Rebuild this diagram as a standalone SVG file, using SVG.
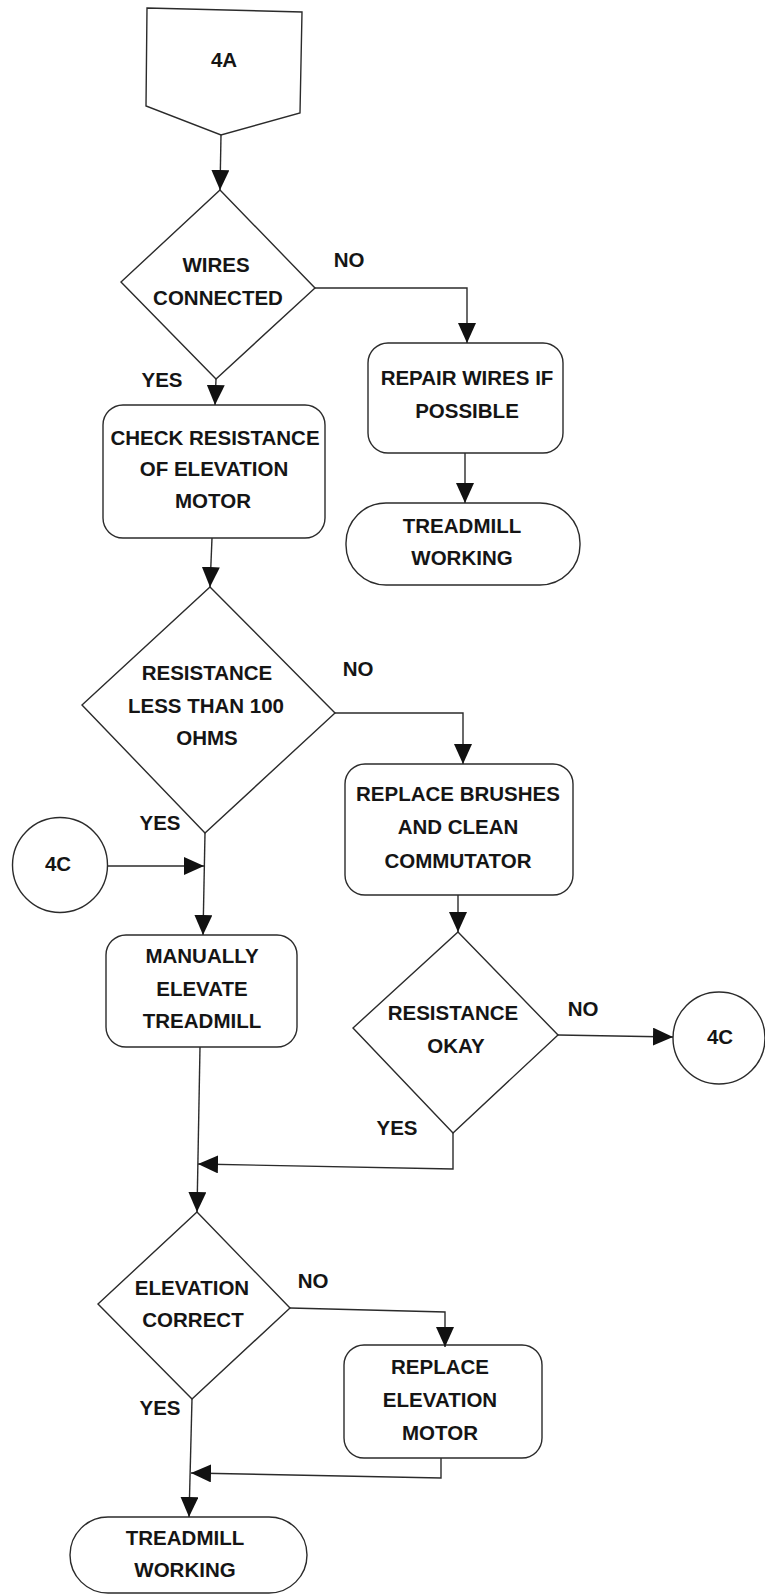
<svg xmlns="http://www.w3.org/2000/svg" width="765" height="1594" viewBox="0 0 765 1594">
  <style>
    .shape { fill: #ffffff; stroke: #2b2b2b; stroke-width: 1.4; }
    .wire { fill: none; stroke: #2b2b2b; stroke-width: 1.4; }
    .label { font-family: "Liberation Sans", Arial, sans-serif; font-weight: bold; font-size: 20.5px; fill: #151515; text-anchor: middle; }
  </style>
  <defs>
    <marker id="arrow" viewBox="0 0 20 18" refX="20" refY="9" markerWidth="20" markerHeight="18" markerUnits="userSpaceOnUse" orient="auto">
      <path d="M0,0 L20,9 L0,18 Z" fill="#111111"/>
    </marker>
  </defs>
  <rect width="765" height="1594" fill="#ffffff"/>

  <!-- off-page entry connector -->
  <g id="start-4a">
    <polygon class="shape" points="147,8 302,12 300,113 221,135 146,106"/>
    <text class="label" x="224" y="67">4A</text>
  </g>

  <g id="wires-connected">
    <polygon class="shape" points="220,190 315,288 216,379 121,282"/>
    <text class="label" x="216" y="272">WIRES</text>
    <text class="label" x="218" y="305">CONNECTED</text>
  </g>

  <g id="repair-wires">
    <rect class="shape" x="368" y="343" width="195" height="110" rx="20"/>
    <text class="label" x="467" y="385">REPAIR WIRES IF</text>
    <text class="label" x="467" y="418">POSSIBLE</text>
  </g>

  <g id="working-1">
    <rect class="shape" x="346" y="503" width="234" height="82" rx="40"/>
    <text class="label" x="462" y="533">TREADMILL</text>
    <text class="label" x="462" y="565">WORKING</text>
  </g>

  <g id="check-resistance">
    <rect class="shape" x="103" y="405" width="222" height="133" rx="20"/>
    <text class="label" x="215" y="445">CHECK RESISTANCE</text>
    <text class="label" x="214" y="476">OF ELEVATION</text>
    <text class="label" x="213" y="508">MOTOR</text>
  </g>

  <g id="resistance-less-100">
    <polygon class="shape" points="210,587 335,713 205,833 82,705"/>
    <text class="label" x="207" y="680">RESISTANCE</text>
    <text class="label" x="206" y="713">LESS THAN 100</text>
    <text class="label" x="207" y="745">OHMS</text>
  </g>

  <g id="replace-brushes">
    <rect class="shape" x="345" y="764" width="228" height="131" rx="20"/>
    <text class="label" x="458" y="801">REPLACE BRUSHES</text>
    <text class="label" x="458" y="834">AND CLEAN</text>
    <text class="label" x="458" y="868">COMMUTATOR</text>
  </g>

  <g id="entry-4c">
    <circle class="shape" cx="60" cy="865" r="47.5"/>
    <text class="label" x="58" y="871">4C</text>
  </g>

  <g id="manually-elevate">
    <rect class="shape" x="106" y="935" width="191" height="112" rx="20"/>
    <text class="label" x="202" y="963">MANUALLY</text>
    <text class="label" x="202" y="996">ELEVATE</text>
    <text class="label" x="202" y="1028">TREADMILL</text>
  </g>

  <g id="resistance-okay">
    <polygon class="shape" points="458,932 558,1035 453,1133 353,1028"/>
    <text class="label" x="453" y="1020">RESISTANCE</text>
    <text class="label" x="456" y="1053">OKAY</text>
  </g>

  <g id="exit-4c">
    <circle class="shape" cx="719" cy="1038" r="46"/>
    <text class="label" x="720" y="1044">4C</text>
  </g>

  <g id="elevation-correct">
    <polygon class="shape" points="197,1212 290,1308 192,1399 98,1304"/>
    <text class="label" x="192" y="1295">ELEVATION</text>
    <text class="label" x="193" y="1327">CORRECT</text>
  </g>

  <g id="replace-motor">
    <rect class="shape" x="344" y="1345" width="198" height="113" rx="20"/>
    <text class="label" x="440" y="1374">REPLACE</text>
    <text class="label" x="440" y="1407">ELEVATION</text>
    <text class="label" x="440" y="1440">MOTOR</text>
  </g>

  <g id="working-2">
    <rect class="shape" x="70" y="1517" width="237" height="76" rx="38"/>
    <text class="label" x="185" y="1545">TREADMILL</text>
    <text class="label" x="185" y="1577">WORKING</text>
  </g>

  <!-- flow lines and branch labels -->
  <g id="connectors">
    <path class="wire" d="M221,135 L220,190" marker-end="url(#arrow)"/>
    <path class="wire" d="M315,288 L467,288 L467,343" marker-end="url(#arrow)"/>
    <path class="wire" d="M216,379 L215,405" marker-end="url(#arrow)"/>
    <path class="wire" d="M465,453 L465,503" marker-end="url(#arrow)"/>
    <path class="wire" d="M212,538 L210,587" marker-end="url(#arrow)"/>
    <path class="wire" d="M335,713 L463,713 L463,764" marker-end="url(#arrow)"/>
    <path class="wire" d="M205,833 L203,935" marker-end="url(#arrow)"/>
    <path class="wire" d="M107,866 L204,866" marker-end="url(#arrow)"/>
    <path class="wire" d="M458,895 L458,932" marker-end="url(#arrow)"/>
    <path class="wire" d="M558,1035 L673,1037" marker-end="url(#arrow)"/>
    <path class="wire" d="M453,1133 L453,1169 L198,1164" marker-end="url(#arrow)"/>
    <path class="wire" d="M200,1047 L197,1212" marker-end="url(#arrow)"/>
    <path class="wire" d="M290,1308 L445,1312 L445,1347" marker-end="url(#arrow)"/>
    <path class="wire" d="M192,1399 L189,1517" marker-end="url(#arrow)"/>
    <path class="wire" d="M441,1458 L441,1478 L191,1473" marker-end="url(#arrow)"/>

    <text class="label" x="349" y="267">NO</text>
    <text class="label" x="162" y="387">YES</text>
    <text class="label" x="358" y="676">NO</text>
    <text class="label" x="160" y="830">YES</text>
    <text class="label" x="583" y="1016">NO</text>
    <text class="label" x="397" y="1135">YES</text>
    <text class="label" x="313" y="1288">NO</text>
    <text class="label" x="160" y="1415">YES</text>
  </g>
</svg>
